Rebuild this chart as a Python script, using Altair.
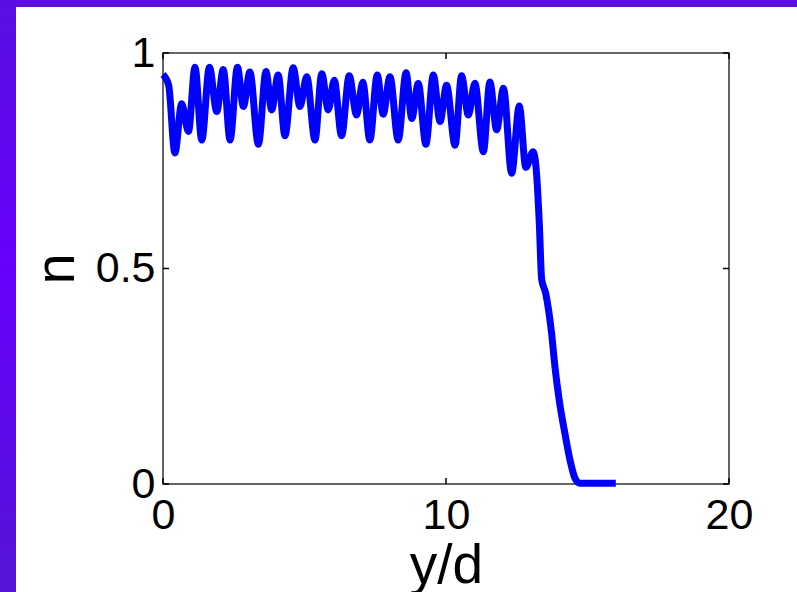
import altair as alt
import pandas as pd

# ---- data ----
y_over_d = [0, 0.2, 0.42, 0.66, 0.9, 1.13, 1.37, 1.64, 1.9, 2.13, 2.37, 2.63, 2.84, 3.07,
            3.37, 3.64, 3.84, 4.07, 4.31, 4.6, 4.84, 5.08, 5.37, 5.61, 5.84, 6.05, 6.31,
            6.58, 6.84, 7.06, 7.31, 7.57, 7.78, 8.02, 8.31, 8.59, 8.79, 9.02, 9.29, 9.55,
            9.79, 10.02, 10.32, 10.55, 10.79, 11.02, 11.32, 11.55, 11.79, 12.03, 12.32,
            12.59, 12.82, 13.08, 13.2, 13.3, 13.38, 13.52, 13.73, 13.85, 14.0, 14.2,
            14.38, 14.56, 14.73, 16.0]
n_values = [0.95, 0.925, 0.768, 0.882, 0.818, 0.967, 0.798, 0.967, 0.864, 0.962, 0.798,
            0.967, 0.876, 0.956, 0.788, 0.957, 0.868, 0.949, 0.808, 0.966, 0.876, 0.945,
            0.798, 0.952, 0.868, 0.937, 0.808, 0.947, 0.856, 0.932, 0.798, 0.949, 0.858,
            0.945, 0.798, 0.954, 0.848, 0.929, 0.788, 0.949, 0.841, 0.925, 0.786, 0.947,
            0.856, 0.93, 0.771, 0.933, 0.822, 0.918, 0.721, 0.877, 0.735, 0.771, 0.72,
            0.6, 0.475, 0.443, 0.35, 0.272, 0.195, 0.118, 0.056, 0.013, 0.002, 0.002]
x_ticks = [0, 10, 20]
y_ticks = [0, 0.5, 1]

W, H = 566, 431
FONT = "Liberation Sans"

df = pd.DataFrame({"x": y_over_d, "n": n_values})
xt = pd.DataFrame({"x": x_ticks})
yt = pd.DataFrame({"n": y_ticks})
one = pd.DataFrame({"a": [1]})

xscale = alt.Scale(domain=[0, 20], nice=False, zero=False)
yscale = alt.Scale(domain=[0, 1], nice=False, zero=False)

x_axis = alt.Axis(values=x_ticks, format="d", labelFont=FONT, labelFontSize=43,
                  labelColor="black", labelPadding=10, ticks=False, domain=False,
                  grid=False, labelFlush=False, labelOverlap=False,
                  title="y/d", titleFont=FONT, titleFontSize=55,
                  titleFontWeight="normal", titleColor="black",
                  titleY=98, titleBaseline="alphabetic")
y_axis = alt.Axis(values=y_ticks, format="~g", labelFont=FONT, labelFontSize=43,
                  labelColor="black", labelPadding=8, ticks=False, domain=False,
                  grid=False, labelFlush=False, labelOverlap=False,
                  title="n", titleFont=FONT, titleFontSize=56,
                  titleFontWeight="normal", titleColor="black", titleAngle=270,
                  titleX=-90, titleBaseline="alphabetic")

X = alt.X("x:Q", scale=xscale, axis=x_axis, title="y/d")
Y = alt.Y("n:Q", scale=yscale, axis=y_axis, title="n")

purple = alt.Gradient(
    gradient="linear",
    stops=[alt.GradientStop(offset=0, color="#5a0fe0"),
           alt.GradientStop(offset=0.45, color="#6600fc"),
           alt.GradientStop(offset=1, color="#5514d6")],
    x1=0, x2=0, y1=0, y2=1,
)

left_band = alt.Chart(one).mark_rect(color=purple).encode(
    x=alt.value(-163), x2=alt.value(-147), y=alt.value(-53), y2=alt.value(H + 108)
)
top_band = alt.Chart(one).mark_rect(color="#5a0ee2").encode(
    x=alt.value(-163), x2=alt.value(W + 68), y=alt.value(-53), y2=alt.value(-46)
)

line = alt.Chart(df).mark_line(
    color="#0000ff", strokeWidth=7, interpolate="monotone", strokeJoin="round"
).encode(x=X, y=Y)

tick_style = dict(color="black", strokeWidth=1.5)
xt_top = alt.Chart(xt).mark_rule(**tick_style).encode(
    x=X, y=alt.value(0), y2=alt.value(6))
xt_bot = alt.Chart(xt).mark_rule(**tick_style).encode(
    x=X, y=alt.value(H - 6), y2=alt.value(H))
yt_left = alt.Chart(yt).mark_rule(**tick_style).encode(
    y=Y, x=alt.value(0), x2=alt.value(6))
yt_right = alt.Chart(yt).mark_rule(**tick_style).encode(
    y=Y, x=alt.value(W - 6), x2=alt.value(W))

chart = alt.layer(left_band, top_band, line, xt_top, xt_bot, yt_left, yt_right).properties(
    width=W, height=H,
    autosize=alt.AutoSizeParams(type="none"),
    padding={"left": 163, "top": 53, "right": 68, "bottom": 108},
    background="white",
).configure_view(stroke="#333333", strokeWidth=1.5)

chart.save("out.html", embed_options={"renderer": "svg", "actions": False})
